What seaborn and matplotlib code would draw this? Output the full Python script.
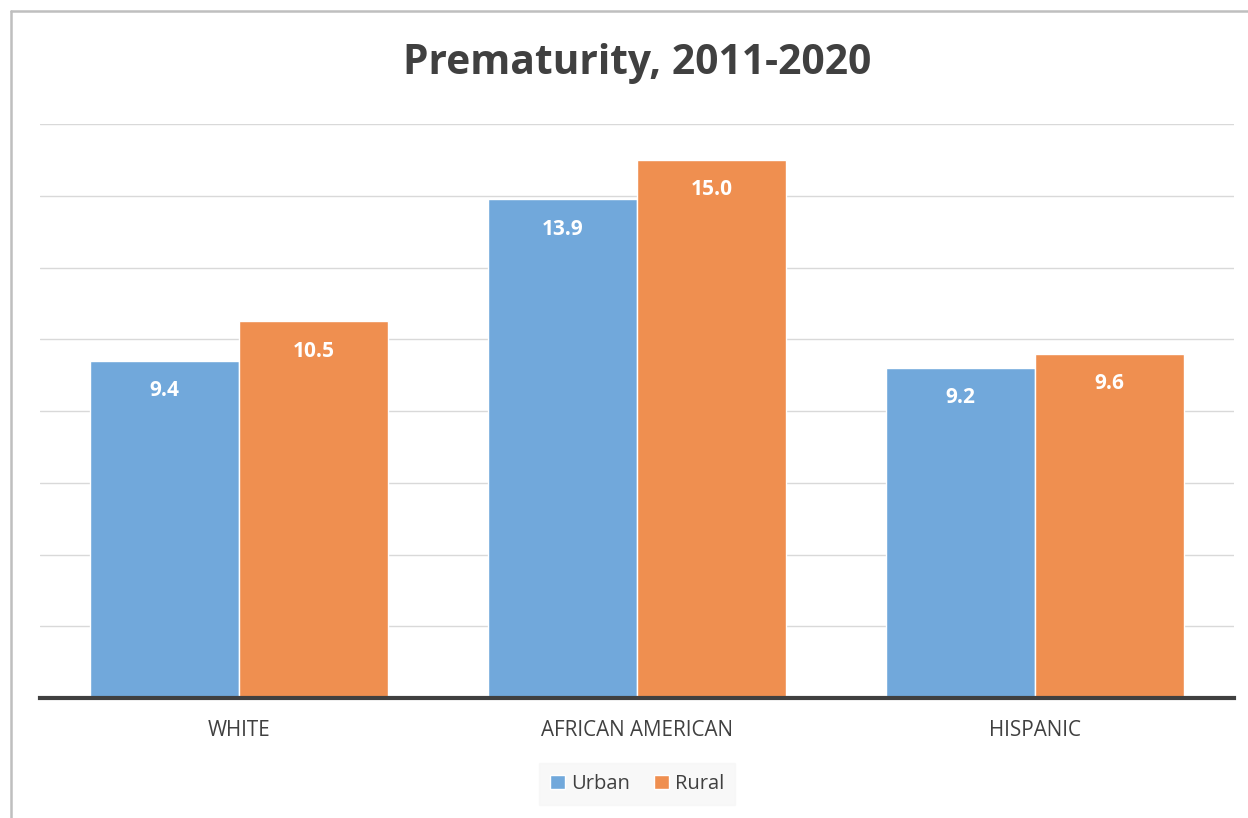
import matplotlib
matplotlib.use("Agg")
import matplotlib.pyplot as plt
import seaborn as sns
import pandas as pd

categories = ["WHITE", "AFRICAN AMERICAN", "HISPANIC"]
urban = [9.4, 13.9, 9.2]
rural = [10.5, 15.0, 9.6]
series_names = ["Urban", "Rural"]
title = "Prematurity, 2011-2020"

df = pd.DataFrame({
    "cat": categories * 2,
    "val": urban + rural,
    "series": [series_names[0]] * 3 + [series_names[1]] * 3,
})

sns.set_theme(style="white")
plt.rcParams["font.family"] = ["Open Sans", "DejaVu Sans"]

fig = plt.figure(figsize=(12.48, 8.18), dpi=100)
ax = fig.add_axes([40 / 1248, 1 - 698 / 818, (1234 - 40) / 1248, (698 - 124) / 818])

palette = {"Urban": "#71A8DB", "Rural": "#EF8F50"}
sns.barplot(data=df, x="cat", y="val", hue="series", palette=palette, width=0.75,
            edgecolor="white", linewidth=1, saturation=1, ax=ax, legend=True)

ax.set_ylim(0, 16)
ax.set_xlim(-0.5, 2.5)
ax.set_yticks(range(0, 17, 2))
ax.set_yticklabels([])
ax.yaxis.grid(True, color="#D9D9D9", linewidth=1.0)
ax.set_axisbelow(True)
ax.tick_params(axis="y", length=0)
ax.tick_params(axis="x", length=0, pad=16, labelsize=14.9, labelcolor="#404040")
for s in ["top", "right", "left"]:
    ax.spines[s].set_visible(False)
ax.spines["bottom"].set_color("#404040")
ax.spines["bottom"].set_linewidth(3)
ax.set_xlabel("")
ax.set_ylabel("")

for cont in ax.containers:
    for bar in cont:
        h = bar.get_height()
        ax.annotate(f"{h:.1f}", (bar.get_x() + bar.get_width() / 2, h),
                    xytext=(0, -30), textcoords="offset pixels",
                    ha="center", va="center", color="white", fontsize=15,
                    fontweight="bold")

leg = ax.legend(loc="center", bbox_to_anchor=(637 / 1248, 1 - 784 / 818),
                bbox_transform=fig.transFigure, ncol=2, frameon=True,
                fontsize=14.5, handlelength=0.75, handleheight=0.75,
                handletextpad=0.3, columnspacing=1.2, borderpad=0.55,
                fancybox=False)
leg.get_frame().set_facecolor("#F7F7F7")
leg.get_frame().set_edgecolor("#F7F7F7")
for t in leg.get_texts():
    t.set_color("#404040")

fig.text(637 / 1248, 1 - 64 / 818, title, ha="center", va="center",
         fontsize=29.3, fontweight="bold", color="#404040")

# outer border (top and left)
fig.add_artist(plt.Line2D([10.5 / 1248, 10.5 / 1248], [0, 1 - 11 / 818],
                          transform=fig.transFigure, color="#BFBFBF", linewidth=1.8))
fig.add_artist(plt.Line2D([10.5 / 1248, 1], [1 - 11 / 818, 1 - 11 / 818],
                          transform=fig.transFigure, color="#BFBFBF", linewidth=1.8))

fig.savefig("out.png", dpi=100)
